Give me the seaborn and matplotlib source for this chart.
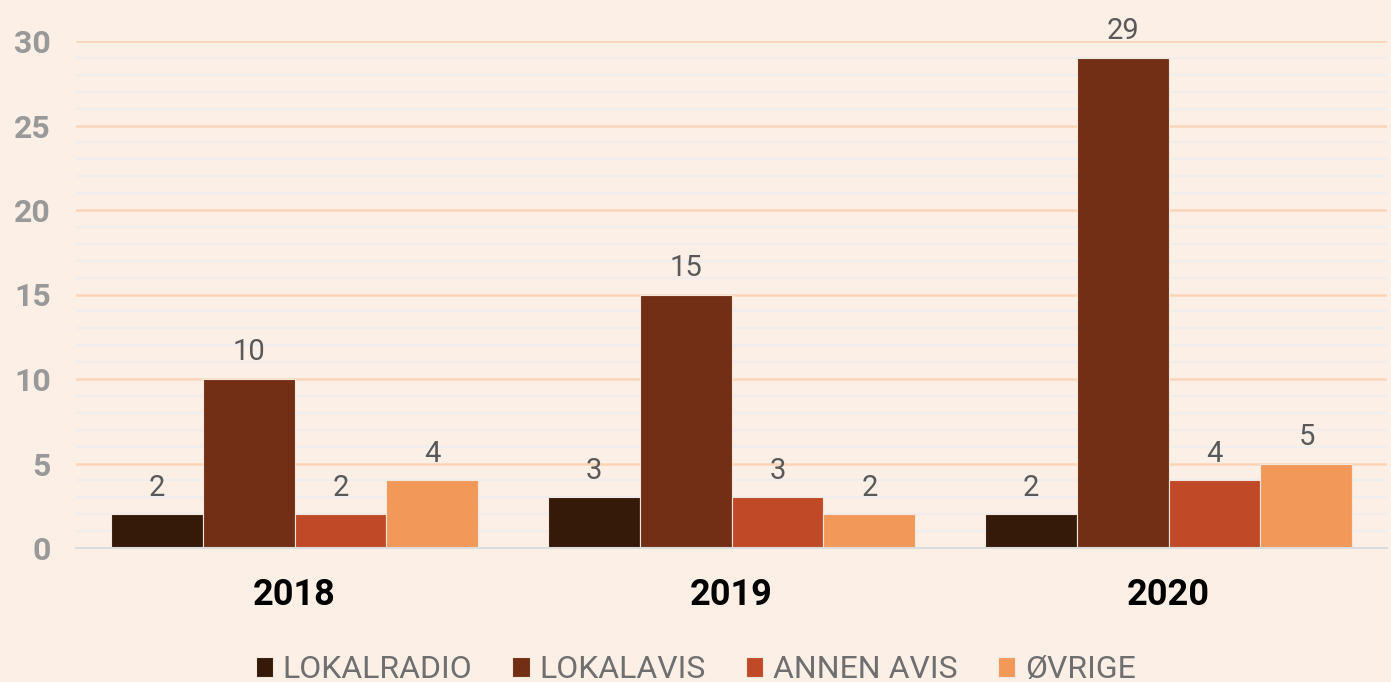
import seaborn as sns
import pandas as pd
import numpy as np
import matplotlib.pyplot as plt
from matplotlib.ticker import MultipleLocator

years = ['2018', '2019', '2020']
lokalradio = [2, 3, 2]
lokalavis = [10, 15, 29]
annen_avis = [2, 3, 4]
ovrige = [4, 2, 5]
series = ['LOKALRADIO', 'LOKALAVIS', 'ANNEN AVIS', 'ØVRIGE']

colors = ['#351a0a', '#722f16', '#c04a27', '#f2995a']
bg = '#fcefe6'

rows = []
for name, vals in zip(series, [lokalradio, lokalavis, annen_avis, ovrige]):
    for y, v in zip(years, vals):
        rows.append({'year': y, 'series': name, 'value': v})
df = pd.DataFrame(rows)

sns.set_theme(style='white')
plt.rcParams['font.family'] = ['Roboto', 'DejaVu Sans']

fig = plt.figure(figsize=(13.91, 6.82), dpi=100, facecolor=bg)
ax = fig.add_axes([76 / 1391, 1 - 548 / 682, 1311 / 1391, 507 / 682])
ax.set_facecolor(bg)

sns.barplot(data=df, x='year', y='value', hue='series', hue_order=series,
            palette=colors, width=0.842, saturation=1, ax=ax,
            edgecolor='#f3e6dc', linewidth=0.8, legend=True)

ax.set_xlim(-0.5, 2.5)
ax.set_ylim(0, 30)
ax.yaxis.set_major_locator(MultipleLocator(5))
ax.yaxis.set_minor_locator(MultipleLocator(1))
ax.grid(which='minor', axis='y', color='#efeeec', linewidth=1.5)
ax.grid(which='major', axis='y', color='#fbd5b8', linewidth=1.8)
ax.set_axisbelow(True)

for s in ['top', 'right', 'left']:
    ax.spines[s].set_visible(False)
ax.spines['bottom'].set_color('#dcdcdc')
ax.spines['bottom'].set_linewidth(1.5)

ax.tick_params(axis='y', which='both', length=0, pad=18)
ax.tick_params(axis='x', length=0, pad=21)
for lab in ax.get_yticklabels():
    lab.set_fontsize(23)
    lab.set_fontweight('bold')
    lab.set_color('#999999')
for lab in ax.get_xticklabels():
    lab.set_fontsize(26)
    lab.set_fontweight('bold')
    lab.set_color('black')
ax.set_xlabel('')
ax.set_ylabel('')

for c in ax.containers:
    ax.bar_label(c, padding=9, fontsize=21, color='#595959', clip_on=False)

handles, labels = ax.get_legend_handles_labels()
ax.get_legend().remove()
fig.legend(handles, labels, loc='center', bbox_to_anchor=(0.5, 0.018), ncol=4,
           frameon=False, fontsize=23, labelcolor='#6f6f6f',
           handlelength=0.55, handleheight=0.55, handletextpad=0.3,
           columnspacing=1.25)

fig.savefig('out.png', dpi=100, facecolor=bg)
